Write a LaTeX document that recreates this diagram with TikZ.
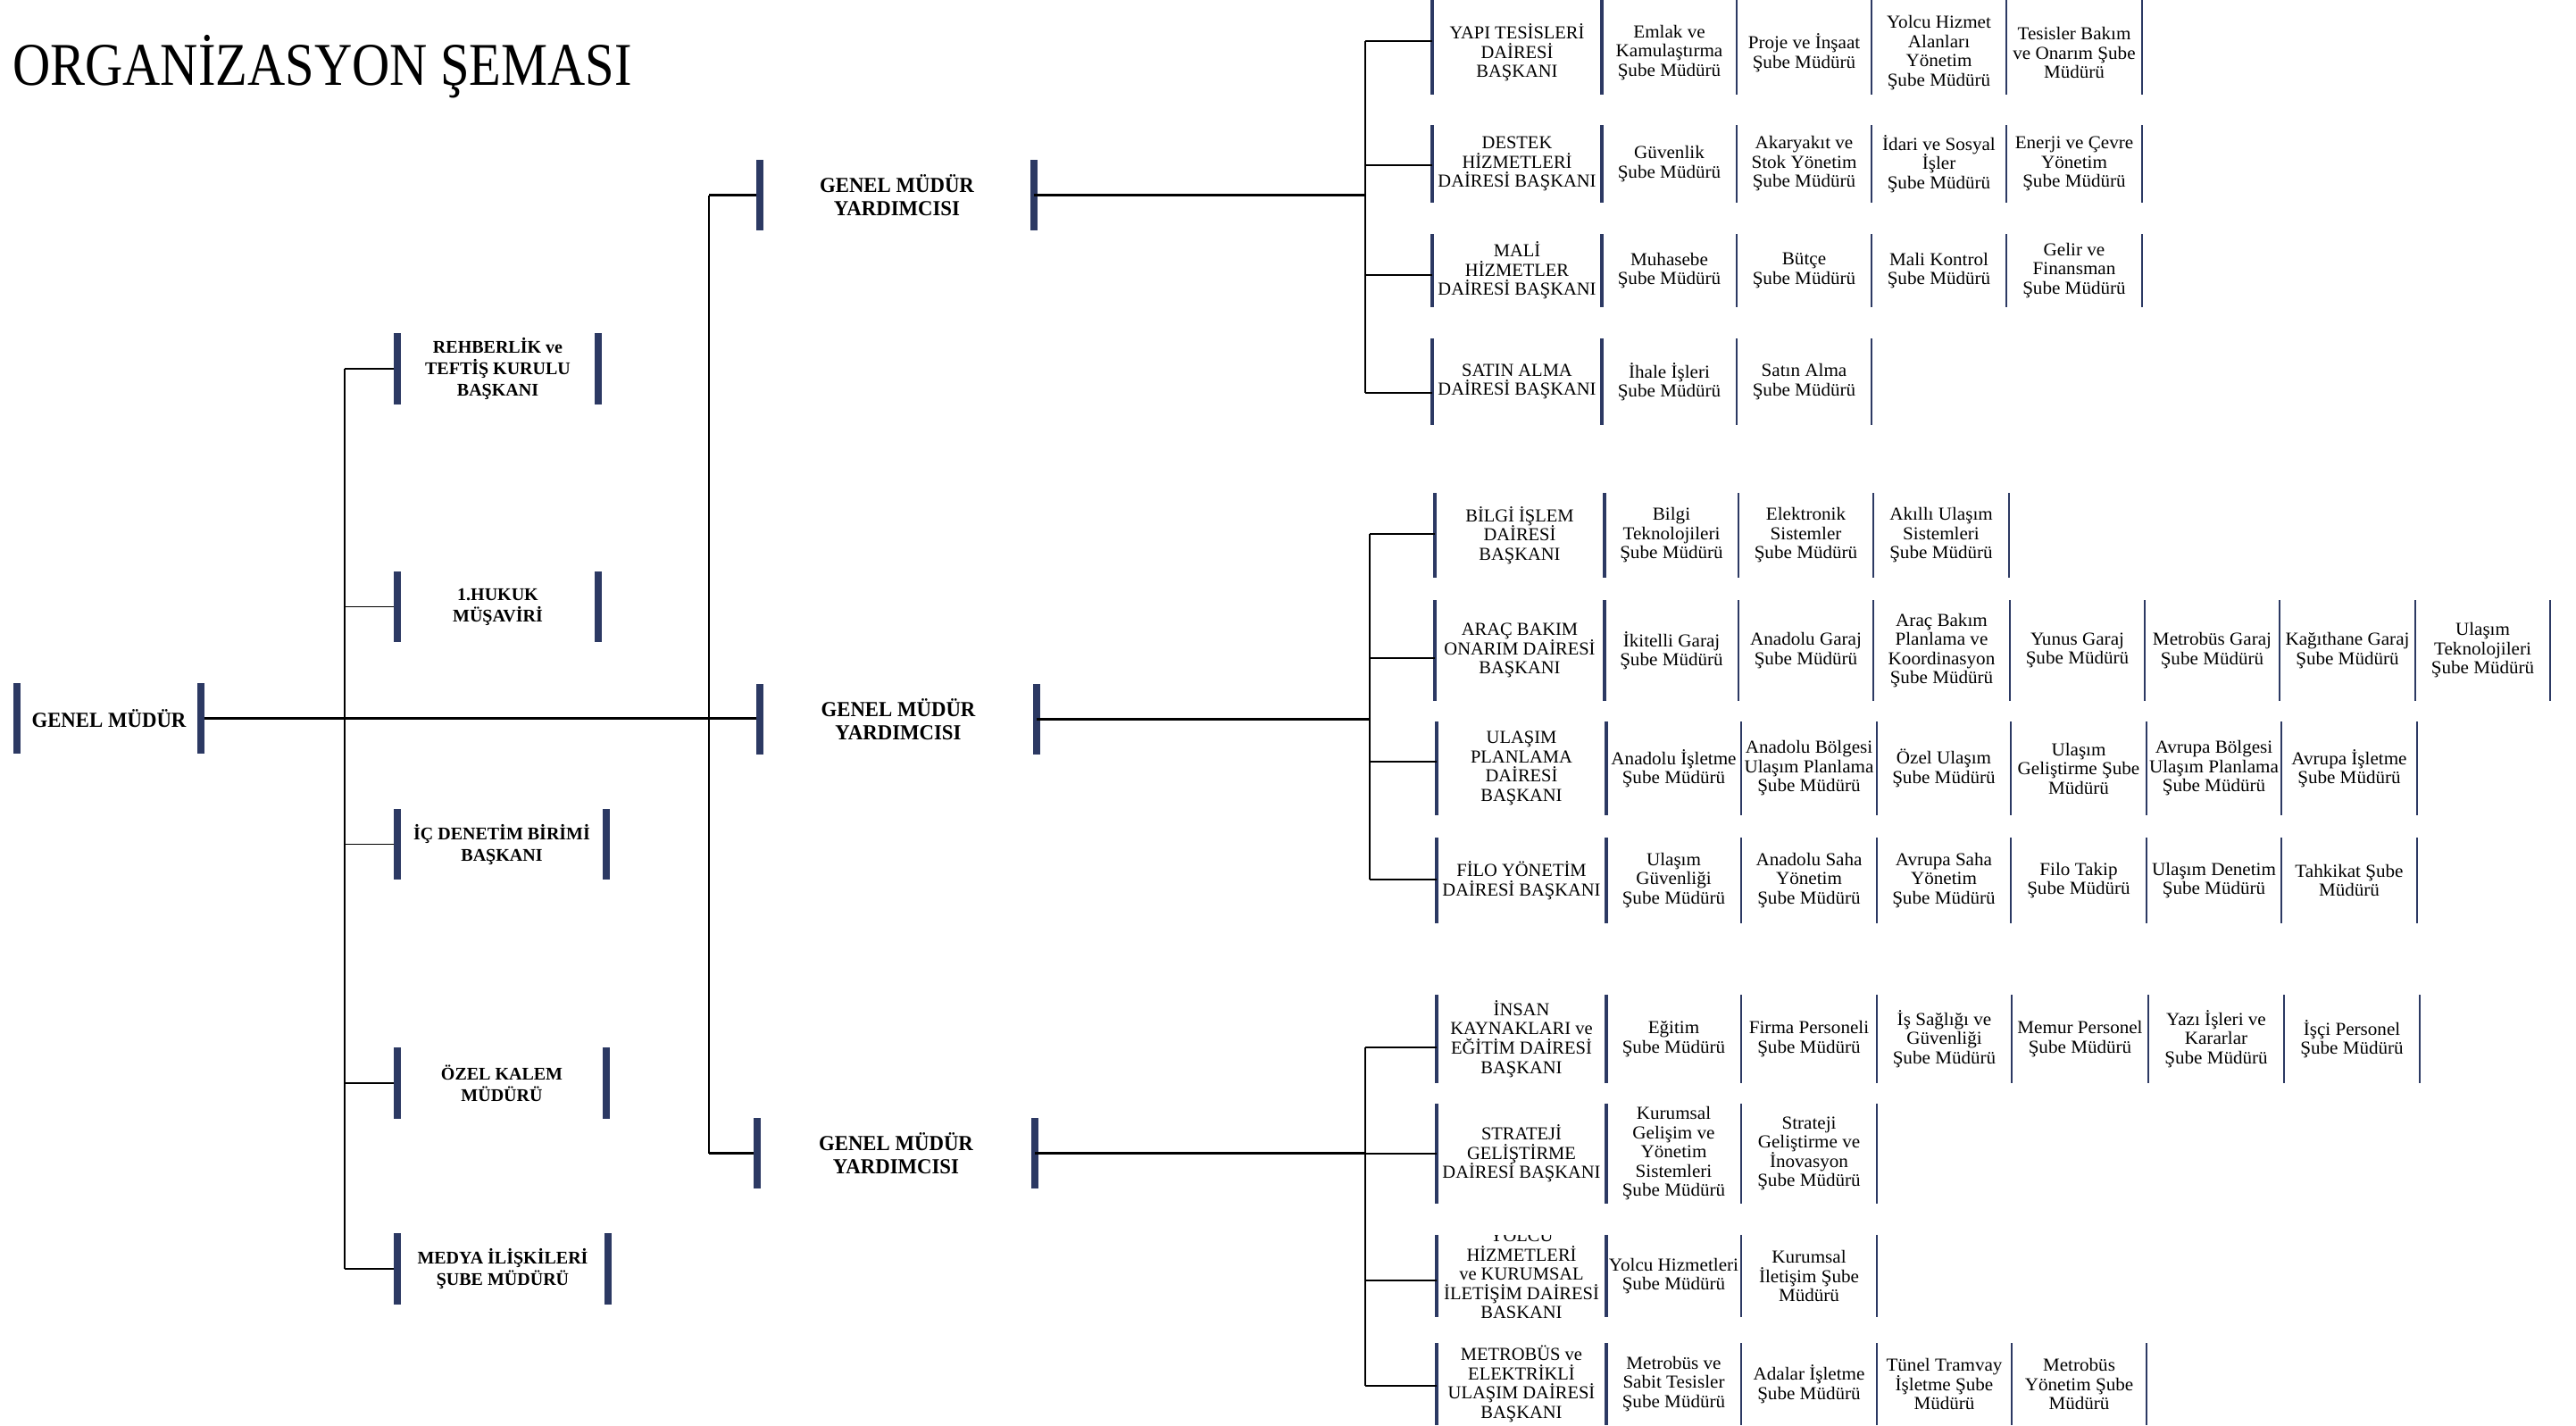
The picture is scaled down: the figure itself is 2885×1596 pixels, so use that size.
\documentclass[tikz,border=0pt]{standalone}
\usepackage{fontspec}
\setmainfont{Liberation Serif}
\newfontfamily\titlefont[FakeStretch=0.86]{Liberation Serif}
\newfontfamily\subfont[FakeStretch=1.03]{Liberation Serif}
\newfontfamily\heavyfont[FakeStretch=0.95]{Liberation Serif}
\definecolor{navy}{RGB}{44,57,99}

\tikzset{
  bar/.style={fill=navy, draw=none},
  mainline/.style={draw=black, line width=2.2pt},
  trunkline/.style={draw=black, line width=1.8pt},
  lefttwig/.style={draw=black, line width=1.8pt},
  twig/.style={draw=black, line width=1.4pt},
  lnode/.style={inner sep=0pt, align=center, font=\bfseries\fontsize{20}{24}\selectfont},
  gnode/.style={inner sep=0pt, align=center, font=\heavyfont\bfseries\fontsize{24}{26}\selectfont},
  deptcell/.style={inner sep=0pt, align=center, font=\fontsize{20.5}{21.6}\selectfont},
  subcell/.style={inner sep=0pt, align=center, font=\subfont\fontsize{20.5}{21.5}\selectfont},
}

% side bars of a left-hand node: #1 name, #2 half width
\newcommand\sidebars[2]{%
  \fill[bar] ([xshift=-#2pt]#1.north west) rectangle ([xshift=#2pt]#1.south west);
  \fill[bar] ([xshift=-#2pt]#1.north east) rectangle ([xshift=#2pt]#1.south east);
}

\def\textdy{0}
% one row of cells: #1 name, #2 top, #3 bottom, #4 branch y, #5 list xl/xr/text
\newcommand\orgrow[5]{%
  \coordinate (#1-b) at (0,#4);
  \foreach \xl/\xr/\txt [count=\i] in {#5}{%
    \pgfmathsetmacro\cw{\xr-\xl}%
    \pgfmathsetmacro\ch{#3-#2}%
    \ifnum\i=1
      \node[deptcell, minimum width=\cw pt, minimum height=\ch pt] (#1-\i) at ({(\xl+\xr)/2},{(#2+#3)/2+\textdy}) {\txt};
      \fill[bar] ({\xl-2.25},#2) rectangle ({\xl+2.25},#3);
      \fill[bar] ({\xr-2.25},#2) rectangle ({\xr+2.25},#3);
    \else
      \node[subcell, minimum width=\cw pt, minimum height=\ch pt] (#1-\i) at ({(\xl+\xr)/2},{(#2+#3)/2+\textdy}) {\txt};
      \fill[bar] ({\xr-1.35},#2) rectangle ({\xr+1.35},#3);
    \fi
  }%
}

\begin{document}
\begin{tikzpicture}[x=1pt, y=-1pt]
\useasboundingbox (0,0) rectangle (2885,1596);

% title
\node[anchor=base west, inner sep=0pt, font=\titlefont\fontsize{68}{70}\selectfont] (title) at (14,95) {ORGANİZASYON ŞEMASI};

% left-hand nodes
\node[gnode, minimum width=206pt, minimum height=79pt] (gm) at (122,804.5) {GENEL MÜDÜR};
\node[lnode, minimum width=225pt, minimum height=80pt] (reh) at (557.5,413) {REHBERLİK ve\\TEFTİŞ KURULU\\BAŞKANI};
\node[lnode, minimum width=225pt, minimum height=79pt] (huk) at (557.5,679.5) {1.HUKUK\\MÜŞAVİRİ};
\node[lnode, minimum width=234pt, minimum height=79pt] (icd) at (562,945.5) {İÇ DENETİM BİRİMİ\\BAŞKANI};
\node[lnode, minimum width=234pt, minimum height=79pt] (ozk) at (562,1213) {ÖZEL KALEM\\MÜDÜRÜ};
\node[lnode, minimum width=236pt, minimum height=79pt] (med) at (563,1421) {MEDYA İLİŞKİLERİ\\ŞUBE MÜDÜRÜ};
\node[gnode, minimum width=307pt, minimum height=79pt] (gmy1) at (1004.5,218.5) {GENEL MÜDÜR\\YARDIMCISI};
\node[gnode, minimum width=310pt, minimum height=79pt] (gmy2) at (1006,805.5) {GENEL MÜDÜR\\YARDIMCISI};
\node[gnode, minimum width=311pt, minimum height=79pt] (gmy3) at (1003.5,1291.5) {GENEL MÜDÜR\\YARDIMCISI};

% trunk positions
\coordinate (t1) at (386,0);
\coordinate (t2) at (794,0);
\coordinate (ta) at (1529,0);
\coordinate (tb) at (1534,0);
\coordinate (tc) at (1529,0);

% left connectors
\draw[mainline] (gm.east) -- (gm.east -| gmy2.west);
\draw[trunkline] (t1 |- reh.west) -- (t1 |- med.west);
\foreach \n in {reh,huk,icd,ozk,med}{\draw[lefttwig] (t1 |- \n.west) -- (\n.west);}
\draw[trunkline] (t2 |- gmy1.west) -- (t2 |- gmy3.west);
\draw[mainline] (t2 |- gmy1.west) -- (gmy1.west);
\draw[mainline] (t2 |- gmy3.west) -- (gmy3.west);

\foreach \n in {gm,reh,huk,icd,ozk,med,gmy1,gmy2,gmy3}{\sidebars{\n}{4}}

% group 1
\def\textdy{6}
\orgrow{ya}{0}{106}{46}{1604/1794/{YAPI TESİSLERİ\\DAİRESİ\\BAŞKANI}, 1794/1945/{Emlak ve\\Kamulaştırma\\Şube Müdürü}, 1945/2096/{Proje ve İnşaat\\Şube Müdürü}, 2096/2247/{Yolcu Hizmet\\Alanları\\Yönetim\\Şube Müdürü}, 2247/2399/{Tesisler Bakım\\ve Onarım Şube\\Müdürü}}
\def\textdy{0}
\orgrow{de}{140}{227}{185}{1604/1794/{DESTEK\\HİZMETLERİ\\DAİRESİ BAŞKANI}, 1794/1945/{Güvenlik\\Şube Müdürü}, 1945/2096/{Akaryakıt ve\\Stok Yönetim\\Şube Müdürü}, 2096/2247/{İdari ve Sosyal\\İşler\\Şube Müdürü}, 2247/2399/{Enerji ve Çevre\\Yönetim\\Şube Müdürü}}
\orgrow{ma}{262}{344}{308}{1604/1794/{MALİ\\HİZMETLER\\DAİRESİ BAŞKANI}, 1794/1945/{Muhasebe\\Şube Müdürü}, 1945/2096/{Bütçe\\Şube Müdürü}, 2096/2247/{Mali Kontrol\\Şube Müdürü}, 2247/2399/{Gelir ve\\Finansman\\Şube Müdürü}}
\orgrow{sa}{379}{476}{440}{1604/1794/{SATIN ALMA\\DAİRESİ BAŞKANI}, 1794/1945/{İhale İşleri\\Şube Müdürü}, 1945/2096/{Satın Alma\\Şube Müdürü}}

% group 2
\orgrow{bi}{552}{647}{598}{1607/1797/{BİLGİ İŞLEM\\DAİRESİ\\BAŞKANI}, 1797/1947/{Bilgi\\Teknolojileri\\Şube Müdürü}, 1947/2098/{Elektronik\\Sistemler\\Şube Müdürü}, 2098/2250/{Akıllı Ulaşım\\Sistemleri\\Şube Müdürü}}
\orgrow{ar}{672}{785}{737}{1607/1797/{ARAÇ BAKIM\\ONARIM DAİRESİ\\BAŞKANI}, 1797/1947/{İkitelli Garaj\\Şube Müdürü}, 1947/2098/{Anadolu Garaj\\Şube Müdürü}, 2098/2251/{Araç Bakım\\Planlama ve\\Koordinasyon\\Şube Müdürü}, 2251/2402/{Yunus Garaj\\Şube Müdürü}, 2402/2553/{Metrobüs Garaj\\Şube Müdürü}, 2553/2705/{Kağıthane Garaj\\Şube Müdürü}, 2705/2856/{Ulaşım\\Teknolojileri\\Şube Müdürü}}
\orgrow{ul}{808}{913}{853}{1609/1799/{ULAŞIM\\PLANLAMA\\DAİRESİ\\BAŞKANI}, 1799/1950/{Anadolu İşletme\\Şube Müdürü}, 1950/2102/{Anadolu Bölgesi\\Ulaşım Planlama\\Şube Müdürü}, 2102/2252/{Özel Ulaşım\\Şube Müdürü}, 2252/2404/{Ulaşım\\Geliştirme Şube\\Müdürü}, 2404/2555/{Avrupa Bölgesi\\Ulaşım Planlama\\Şube Müdürü}, 2555/2707/{Avrupa İşletme\\Şube Müdürü}}
\orgrow{fi}{938}{1034}{985}{1609/1799/{FİLO YÖNETİM\\DAİRESİ BAŞKANI}, 1799/1950/{Ulaşım\\Güvenliği\\Şube Müdürü}, 1950/2102/{Anadolu Saha\\Yönetim\\Şube Müdürü}, 2102/2252/{Avrupa Saha\\Yönetim\\Şube Müdürü}, 2252/2404/{Filo Takip\\Şube Müdürü}, 2404/2555/{Ulaşım Denetim\\Şube Müdürü}, 2555/2707/{Tahkikat Şube\\Müdürü}}

% group 3
\orgrow{in}{1114}{1213}{1173}{1609/1799/{İNSAN\\KAYNAKLARI ve\\EĞİTİM DAİRESİ\\BAŞKANI}, 1799/1950/{Eğitim\\Şube Müdürü}, 1950/2102/{Firma Personeli\\Şube Müdürü}, 2102/2253/{İş Sağlığı ve\\Güvenliği\\Şube Müdürü}, 2253/2406/{Memur Personel\\Şube Müdürü}, 2406/2558/{Yazı İşleri ve\\Kararlar\\Şube Müdürü}, 2558/2710/{İşçi Personel\\Şube Müdürü}}
\orgrow{st}{1236}{1348}{1292}{1609/1799/{STRATEJİ\\GELİŞTİRME\\DAİRESİ BAŞKANI}, 1799/1950/{Kurumsal\\Gelişim ve\\Yönetim\\Sistemleri\\Şube Müdürü}, 1950/2102/{Strateji\\Geliştirme ve\\İnovasyon\\Şube Müdürü}}
\begin{scope}
\clip (1595,1383) rectangle (2300,1475);
\orgrow{yo}{1383}{1475}{1434}{1609/1799/{YOLCU\\HİZMETLERİ\\ve KURUMSAL\\İLETİŞİM DAİRESİ\\BAŞKANI}, 1799/1950/{Yolcu Hizmetleri\\Şube Müdürü}, 1950/2102/{Kurumsal\\İletişim Şube\\Müdürü}}
\end{scope}
\orgrow{me}{1504}{1596}{1552}{1609/1799/{METROBÜS ve\\ELEKTRİKLİ\\ULAŞIM DAİRESİ\\BAŞKANI}, 1799/1950/{Metrobüs ve\\Sabit Tesisler\\Şube Müdürü}, 1950/2102/{Adalar İşletme\\Şube Müdürü}, 2102/2253/{Tünel Tramvay\\İşletme Şube\\Müdürü}, 2253/2404/{Metrobüs\\Yönetim Şube\\Müdürü}}

% right connectors
\draw[mainline] (gmy1.east) -- (gmy1.east -| ta);
\draw[trunkline] (ta |- ya-b) -- (ta |- sa-b);
\foreach \r in {ya,de,ma,sa}{\draw[twig] (ta |- \r-b) -- (\r-1.west |- \r-b);}

\draw[mainline] (gmy2.east) -- (gmy2.east -| tb);
\draw[trunkline] (tb |- bi-b) -- (tb |- fi-b);
\foreach \r in {bi,ar,ul,fi}{\draw[twig] (tb |- \r-b) -- (\r-1.west |- \r-b);}

\draw[mainline] (gmy3.east) -- (gmy3.east -| tc);
\draw[trunkline] (tc |- in-b) -- (tc |- me-b);
\foreach \r in {in,st,yo,me}{\draw[twig] (tc |- \r-b) -- (\r-1.west |- \r-b);}

\end{tikzpicture}
\end{document}
